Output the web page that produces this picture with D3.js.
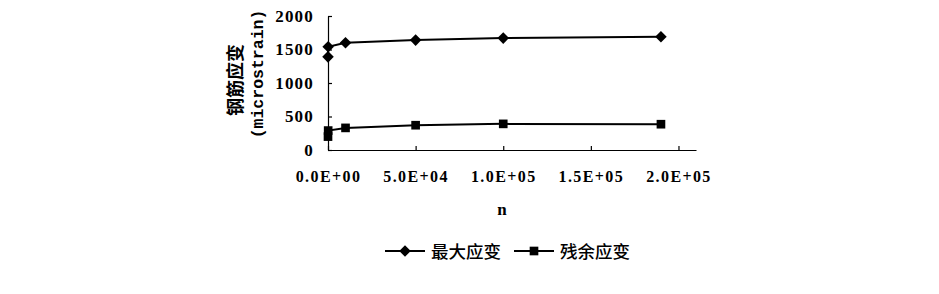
<!DOCTYPE html>
<html><head><meta charset="utf-8">
<script src="https://cdn.jsdelivr.net/npm/d3@7"></script>
<style>body{margin:0;background:#fff}</style>
</head><body>
<svg id="c" width="939" height="294"></svg>
<script>
const nValues = [1, 100, 10000, 50000, 100000, 190000];
const maxStrain = [1390, 1540, 1600, 1640, 1670, 1690];
const residualStrain = [200, 290, 330, 370, 390, 385];
const xTicks = [0, 50000, 100000, 150000, 200000];
const xTickLabels = ["0.0E+00", "5.0E+04", "1.0E+05", "1.5E+05", "2.0E+05"];
const yTicks = [0, 500, 1000, 1500, 2000];
const seriesNames = ["最大应变", "残余应变"];

const svg = d3.select("#c");
const x = d3.scaleLinear().domain([0, 210000]).range([328, 696]);
const y = d3.scaleLinear().domain([0, 2000]).range([150, 16]);

const xAxis = d3.axisBottom(x).tickValues(xTicks).tickSizeInner(-4).tickSizeOuter(0)
  .tickFormat((d, i) => xTickLabels[i]).tickPadding(21);
const gx = svg.append("g").attr("transform", "translate(0,150)").call(xAxis);
gx.selectAll("text").attr("font-family", "Liberation Serif").attr("font-weight", "bold")
  .attr("letter-spacing", 1.4).attr("font-size", 16).attr("fill", "#000");

const yAxis = d3.axisLeft(y).tickValues(yTicks).tickSizeInner(-4).tickSizeOuter(0).tickPadding(14)
  .tickFormat(d3.format("d"));
const gy = svg.append("g").attr("transform", "translate(328,0)").call(yAxis);
gy.selectAll("text").attr("font-family", "Liberation Serif").attr("font-weight", "bold")
  .attr("letter-spacing", 1.2).attr("font-size", 17).attr("fill", "#000");
svg.selectAll(".domain, .tick line").attr("stroke", "#000").attr("stroke-width", 1.2);

svg.append("text").attr("x", 502).attr("y", 215).attr("text-anchor", "middle")
  .attr("font-family", "Liberation Serif").attr("font-weight", "bold").attr("font-size", 17).text("n");

svg.append("text").attr("transform", "translate(242,80) rotate(-90)").attr("text-anchor", "middle")
  .attr("font-family", "Noto Sans CJK SC").attr("font-weight", "bold").attr("font-size", 18).text("钢筋应变");
svg.append("text").attr("transform", "translate(263,74) rotate(-90)").attr("text-anchor", "middle")
  .attr("font-family", "Liberation Mono").attr("font-weight", "bold").attr("font-size", 16.5).text("(microstrain)");

const line = d3.line().x((d, i) => x(nValues[i])).y(d => y(d));
const diamond = d3.symbol().type(d3.symbolDiamond2).size(85);
const square = d3.symbol().type(d3.symbolSquare).size(75);

function drawSeries(vals, sym) {
  svg.append("path").attr("d", line(vals)).attr("fill", "none").attr("stroke", "#000").attr("stroke-width", 2);
  svg.selectAll(null).data(vals).enter().append("path")
    .attr("d", sym).attr("transform", (d, i) => `translate(${x(nValues[i])},${y(d)})`).attr("fill", "#000");
}
drawSeries(maxStrain, diamond);
drawSeries(residualStrain, square);

const legend = [{name: seriesNames[0], sym: diamond, x0: 385}, {name: seriesNames[1], sym: square, x0: 514}];
legend.forEach(l => {
  svg.append("line").attr("x1", l.x0).attr("x2", l.x0 + 40).attr("y1", 251).attr("y2", 251).attr("stroke", "#000").attr("stroke-width", 2);
  svg.append("path").attr("d", l.sym).attr("transform", `translate(${l.x0 + 20},251)`).attr("fill", "#000");
  svg.append("text").attr("x", l.x0 + 46).attr("y", 258).attr("font-family", "Noto Sans CJK SC")
    .attr("font-weight", 500).attr("font-size", 17.5).text(l.name);
});
</script>
</body></html>
